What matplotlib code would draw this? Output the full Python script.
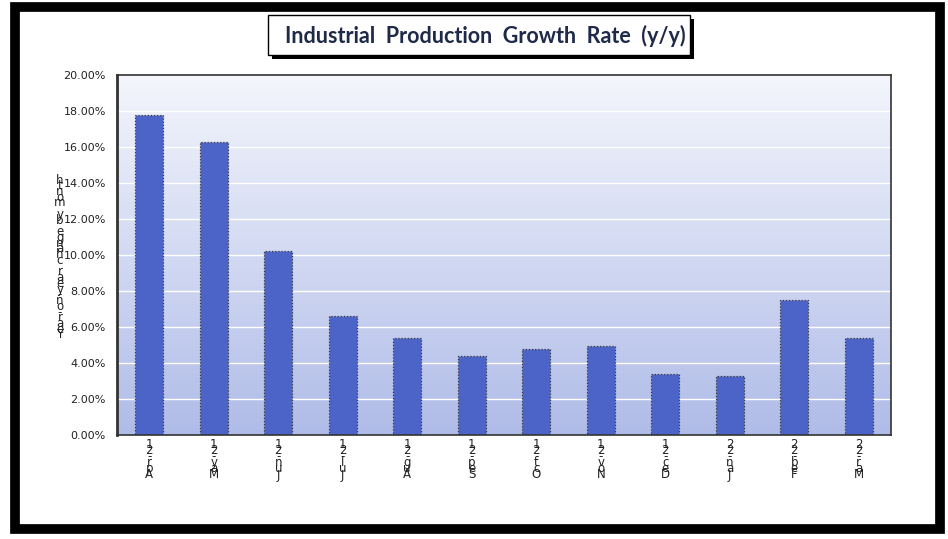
import numpy as np
import matplotlib.pyplot as plt
from matplotlib.patches import Rectangle

months = ['Apr-21', 'May-21', 'Jun-21', 'Jul-21', 'Aug-21', 'Sep-21',
          'Oct-21', 'Nov-21', 'Dec-21', 'Jan-22', 'Feb-22', 'Mar-22']
growth = [17.8, 16.3, 10.2, 6.6, 5.4, 4.4, 4.8, 4.95, 3.4, 3.3, 7.5, 5.4]
yticks = [0, 2, 4, 6, 8, 10, 12, 14, 16, 18, 20]
title = 'Industrial  Production  Growth  Rate  (y/y)'
ylabel = 'Year-on-year change by month'

W, H = 948, 539
fig = plt.figure(figsize=(W / 100, H / 100), dpi=100)


def fx(px):
    return px / W


def fy(py):
    return 1 - py / H


# outer frame
fig.patches.append(Rectangle((fx(15), fy(529)), fx(925), (522) / H,
                             transform=fig.transFigure, facecolor='white',
                             edgecolor='black', linewidth=7, zorder=-5))

ax = fig.add_axes([fx(117), fy(435), fx(891) - fx(117), (435 - 75) / H])
ax.set_zorder(1)
x = np.arange(len(months))

# gradient background
grad = np.linspace(0, 1, 256).reshape(-1, 1)
top = np.array([244, 246, 252]) / 255
bot = np.array([176, 188, 232]) / 255
img = top + (bot - top) * grad[..., None]
ax.imshow(img, extent=[-0.5, len(months) - 0.5, 0, 20], aspect='auto',
          origin='upper', zorder=0)

for t in yticks[1:-1]:
    ax.axhline(t, color='white', linewidth=1, zorder=1)

ax.bar(x, growth, width=0.44, color='#4c64c8', edgecolor='#3a3a3a',
       linewidth=0.9, linestyle=(0, (1, 1.5)), zorder=2)

ax.set_xlim(-0.5, len(months) - 0.5)
ax.set_ylim(0, 20)
ax.set_yticks(yticks)
ax.set_yticklabels([f'{t:.2f}%' for t in yticks], fontsize=8, color='#222222')
ax.set_xticks([])
ax.tick_params(axis='y', length=0, pad=8)
for s in ax.spines.values():
    s.set_color('#333333')
    s.set_linewidth(1.2)
ax.spines['left'].set_linewidth(2)

# stacked x labels (characters bottom-to-top)
for i, lab in enumerate(months):
    for j, ch in enumerate(lab):
        off = -(40 - j * 6.2) * 0.72
        ax.annotate(ch, (i, 0), xycoords=('data', 'axes fraction'),
                    xytext=(0, off), textcoords='offset points',
                    ha='center', va='center', fontsize=8.5, color='#222222',
                    annotation_clip=False)

# stacked y label
n = len(ylabel)
for j, ch in enumerate(ylabel):
    ypx = 335 - j * (335 - 180) / (n - 1)
    fig.text(fx(60), fy(ypx), ch, ha='center', va='center', fontsize=8.5,
             color='#222222')

# title box
fig.patches.append(Rectangle((fx(272), fy(59)), fx(422), 40 / H,
                             transform=fig.transFigure, facecolor='black',
                             edgecolor='none', zorder=2))
fig.patches.append(Rectangle((fx(268), fy(55)), fx(422), 40 / H,
                             transform=fig.transFigure, facecolor='white',
                             edgecolor='black', linewidth=1, zorder=3))
fig.text(fx(485), fy(36), title, ha='center', va='center', fontsize=15.5,
         fontweight='bold', family='Lato', color='#1f2a48', zorder=4)

fig.savefig('out.png', dpi=100)
